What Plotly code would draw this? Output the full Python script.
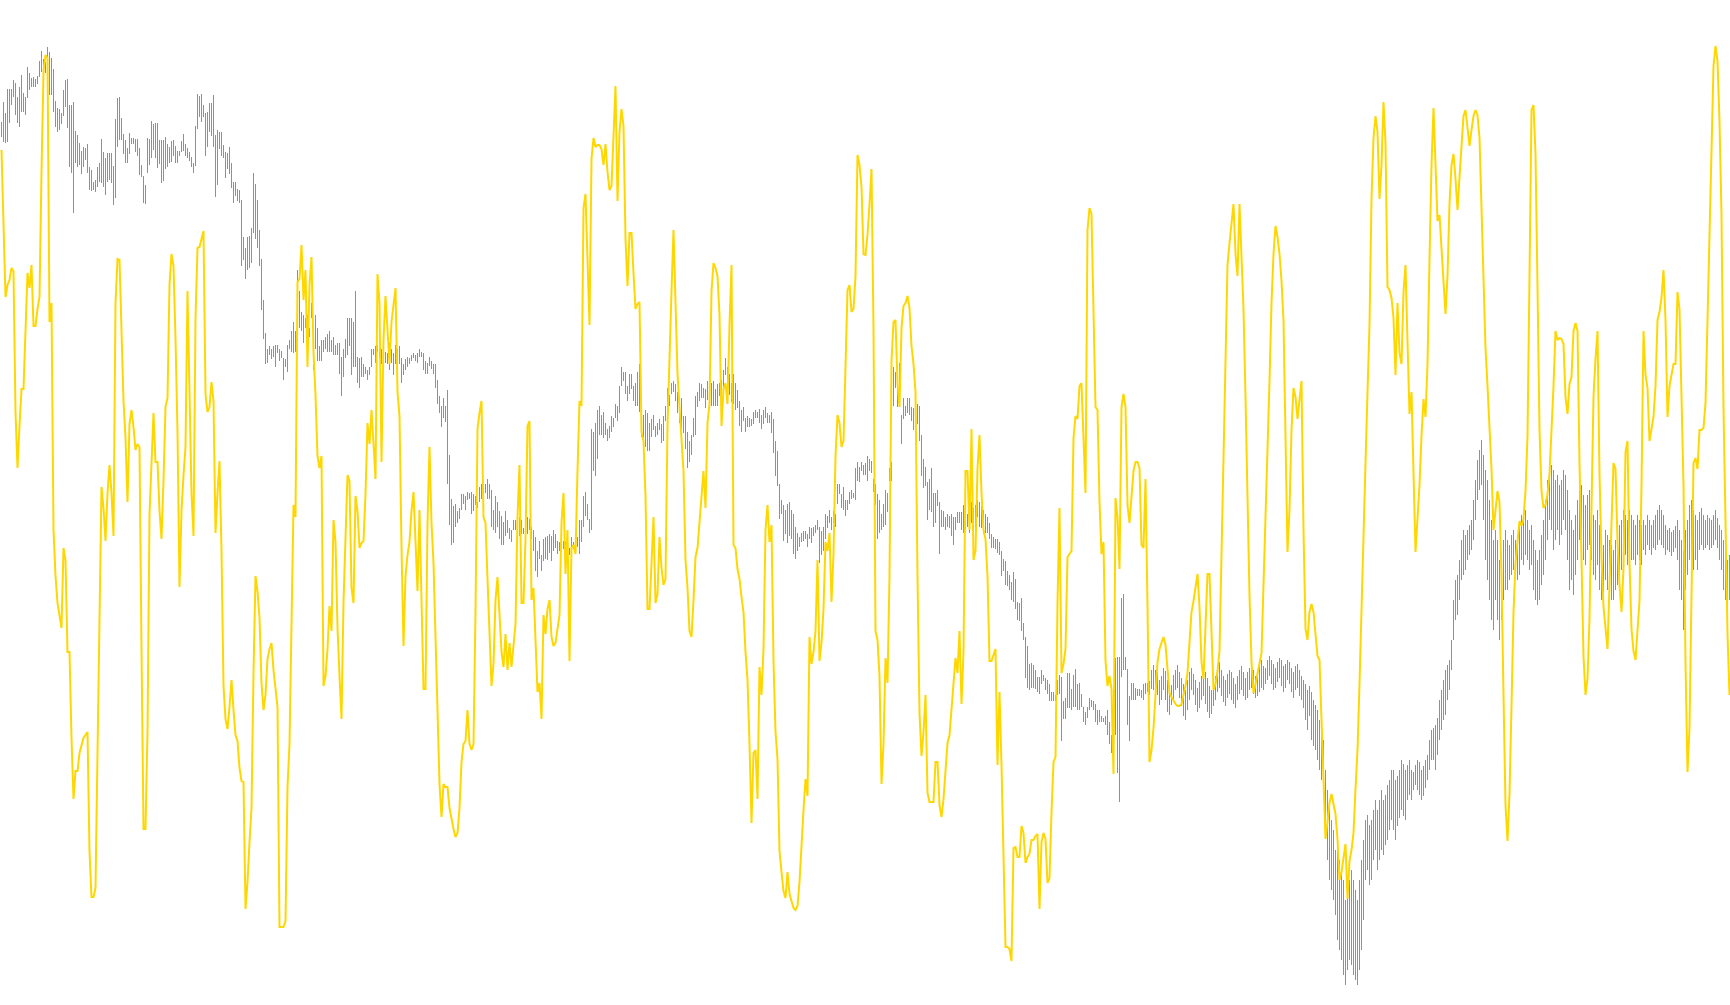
import plotly.graph_objects as go

# Bar extremes (vertical screen-depth units, 0 = top of chart, larger = lower)
bar_top = [
122,102,113,89,89,89,80,83,97,87, 75,93,97,67,73,78,77,79,76,61, 51,59,62,47,52,58,69,101,108,109,
113,90,80,79,105,105,102,131,135,143, 151,147,148,144,167,170,182,180,167,163, 139,152,158,153,153,153,166,119,98,97,
118,134,140,148,133,138,138,139,139,148, 165,176,185,138,139,121,124,123,123,140, 140,140,137,144,147,141,140,146,151,151,
141,134,144,148,152,157,163,126,94,96, 94,105,113,112,103,103,95,135,130,132, 132,145,152,153,147,163,182,182,189,190,
200,
237,248,237,236,228,173,184,200,230,259, 300,333,349,346,349,346,345,345,349,351, 358,359,345,
340,331,322,331,270,291,312,315,318,315, 328,303,328,315,328,346,340,340,337,334, 331,340,337,345,343,343,357,349,339,318,
318,318,322,291,357,358,357,364,367,370, 367,349,349,346,345,346,349,343,352,353, 343,349,353,345,349,346,358,364,359,357,
358,355,353,355,353,349,352,353,361,363, 357,361,
364,364,380,396,406,398,406,390,455,499, 506,504,511,508,494,494,496,492,493,492, 494,496,502,487,484,487,484,479,484,490,
510,496,502,511,516,522,511,520,528,530, 520,520,517,517,520,528,530,517,519,527, 530,537,551,541,555,539,537,536,534,536,
530,534,541,542,537,541,542,545,548,537, 542,539,
537,520,520,496,492,504,519,429,432,423, 410,406,415,412,423,429,426,416,418,404, 406,386,367,372,372,386,374,374,386,383,
372,364,423,415,410,413,423,419,415,426, 423,419,424,416,406,388,395,383,381,384, 392,401,398,416,416,432,441,435,418,396,
392,383,384,388,389,381,389,383,381,389, 384,383,
380,370,358,367,374,383,374,383,390,401, 410,407,418,416,418,419,412,410,412,409, 415,410,407,413,415,412,419,441,451,484,
500,505,510,504,502,510,514,527,533,537, 533,531,531,534,527,528,527,525,520,527, 531,527,514,516,510,517,511,514,484,484,
494,487,500,500,492,490,493,468,462,467, 462,465,
463,456,459,461,479,484,494,500,514,504, 490,493,468,462,367,372,383,363,415,398, 406,398,398,407,408,407,404,406,435,459,
467,482,479,468,493,493,490,502,510,511, 517,514,516,514,517,517,512,512,512,505, 511,514,517,502,508,505,500,502,506,510,
514,517,523,534,537,539,539,542,551,559, 561,571,
575,582,572,579,602,603,598,623,637,646, 664,663,665,670,677,677,670,675,678,680, 684,692,692,695,680,675,677,701,698,673,
673,689,675,669,684,683,694,707,712,707, 698,700,701,704,710,710,716,718,716,710, 722,735,689,658,657,657,598,594,657,669,
696,683,683,688,689,689,690,684,683,683, 681,670,
665,670,672,680,676,668,671,680,690,685, 675,670,665,672,678,684,690,680,672,668, 674,680,688,682,676,670,672,678,686,690,
682,676,668,662,670,676,680,674,670,672, 678,684,676,670,666,672,678,672,668,664, 670,676,672,664,660,666,668,660,656,660,
664,668,662,658,660,666,664,660,662,668, 672,666,664,670,676,680,684,690,686,692, 700,705,710,720,730,740,770,790,800,820,
830,850,840,860,870,880,900,890,880,870, 880,890,900,880,860,840,820,815,825,820, 810,800,810,800,790,800,795,785,780,770,
770,780,776,770,760,764,770,765,760,770, 772,765,760,762,770,766,760,755,740,730, 728,725,718,700,690,680,670,665,660,640,
600,580,575,560,540,530,535,530,525,520, 500,480,460,450,440,455,470,480,500,520, 540,530,540,560,555,540,530,540,545,535,
530,540,535,525,515,520,510,520,530,525, 540,550,560,550,535,520,500,480,470,465, 470,480,475,485,480,470,475,490,510,520,
530,515,500,490,485,495,505,495,490,500, 515,520,510,525,540,545,530,535,540,545, 550,540,535,525,520,510,515,520,510,515,
520,525,515,520,525,520,525,515,520,525, 520,515,510,505,510,515,525,530,528,532, 530,526,520,530,540,550,530,520,505,500,
510,515,520,512,508,515,520,515,518,520, 515,510,518,525,530,540,550,560,555,
]

bar_bottom = [
137,142,143,142,123,105,97,115,123,127, 112,112,115,98,90,87,87,87,84,77, 72,65,73,58,95,95,112,127,132,130,
124,116,107,128,167,173,213,163,167,165, 174,167,160,173,190,191,190,192,187,182, 183,187,195,182,180,183,205,198,147,140,
140,154,163,163,154,144,144,152,156,175, 177,203,204,173,165,158,150,158,168,164, 183,181,169,167,163,162,156,163,163,156,
152,151,156,158,161,167,173,166,129,117, 122,117,156,147,132,136,147,197,185,149, 156,158,178,169,174,188,203,196,201,203,
266,
260,279,270,268,263,233,239,248,266,310, 339,364,363,355,359,357,367,353,361,358, 380,367,372,
349,352,353,352,282,328,331,343,328,334, 337,318,370,349,361,361,361,352,349,352, 352,352,355,355,355,374,396,377,358,355,
346,375,367,367,383,388,377,377,374,380, 375,367,355,363,352,358,364,352,363,364, 370,363,375,364,370,364,383,375,370,367,
364,361,358,361,363,357,357,370,374,374, 366,369,
374,388,404,413,427,418,422,484,525,545, 543,527,523,519,510,504,510,500,499,514, 511,505,508,502,499,514,493,499,499,527,
530,533,527,539,545,545,536,533,539,542, 530,530,527,536,534,534,539,534,530,539, 551,571,577,559,571,561,559,560,553,561,
551,548,554,551,548,549,553,553,555,548, 549,547,
547,554,542,527,516,520,533,530,471,476, 459,435,435,438,435,441,438,432,427,418, 421,413,386,381,394,401,394,389,401,406,
406,412,437,438,447,451,451,437,430,437, 435,430,443,441,421,407,406,394,392,401, 413,423,429,433,449,468,462,455,437,435,
407,401,398,398,408,400,396,406,406,406, 406,396,
394,395,375,389,395,402,404,410,408,426, 432,421,432,427,427,426,424,418,418,423, 429,424,418,423,423,433,453,476,486,519,
514,541,534,543,536,539,554,559,551,547, 542,541,539,547,539,543,536,533,530,563, 555,551,539,528,523,530,523,527,504,494,
508,510,516,510,504,499,498,500,481,482, 471,475,
475,481,471,473,492,505,539,533,530,527, 525,512,481,481,406,388,407,401,444,419, 416,413,415,421,430,426,424,441,476,488,
486,520,510,512,527,523,506,554,527,527, 530,527,528,536,545,530,523,523,530,533, 530,527,533,523,523,530,517,527,528,534,
533,533,539,548,548,549,553,555,576,571, 585,586,
590,600,602,609,620,621,631,640,678,688, 690,688,688,689,692,694,684,681,690,694, 701,701,701,701,695,694,741,719,719,708,
708,710,707,707,710,710,707,722,725,718, 710,707,710,722,725,722,722,722,725,735, 744,753,732,735,773,802,677,670,670,725,
741,700,700,700,696,696,698,700,694,692, 695,689,
690,700,695,705,700,690,700,712,715,705, 700,690,688,698,706,716,720,710,700,690, 695,705,712,708,700,696,704,712,718,714,
706,700,692,688,696,702,706,698,694,700, 704,708,700,694,690,696,700,698,690,688, 694,698,696,692,688,690,684,680,676,684,
690,688,682,678,686,692,688,680,684,692, 698,690,688,696,700,708,720,730,716,740, 746,750,760,770,780,790,830,860,880,890,
900,915,940,950,960,975,985,970,960,965, 975,980,985,970,950,920,880,870,885,880, 860,850,870,860,850,855,845,840,830,820,
830,840,826,818,810,816,820,800,795,800, 790,785,790,795,800,796,788,780,770,760, 760,770,755,740,730,720,715,700,690,670,
640,620,615,600,580,575,570,560,555,550, 540,520,500,490,485,520,560,580,600,620, 630,600,620,640,620,600,590,590,580,575,
570,575,580,575,560,565,555,560,570,565, 590,600,605,600,585,575,560,540,520,530, 550,540,530,545,535,520,530,560,590,580,
595,575,560,540,545,560,565,550,545,560, 575,580,565,590,600,595,580,590,595,600, 600,590,585,575,570,560,555,565,555,560,
560,565,555,560,565,550,555,545,550,555, 548,550,545,540,545,548,555,550,552,556, 552,548,560,590,600,630,590,575,560,560,
570,560,570,550,545,550,548,545,550,548, 545,540,548,560,570,590,600,605,600,
]

signal = [
150,230,297,285,280,268,271,412,468,426, 389,389,340,273,288,265,326,326,309,297, 172,71,55,58,322,303,530,576,603,615,
628,548,560,652,652,738,799,771,771,753, 744,738,735,732,851,897,897,888,753,637, 487,508,541,493,465,493,536,303,259,260,
322,401,438,502,424,410,427,450,444,447, 649,829,
829,732,514,471,413,462,462,511,539,481, 407,398,285,254,266,339,432,587,511,475, 447,291,407,493,536,318,248,247,239,231,
394,412,407,382,401,533,493,461,551,686, 719,729,707,680,710,735,741,768,781,782, 909,882,842,808,673,576,591,618,683,710,
695,659,649,643,670,692,707,927,927,927, 921,787,
744,621,505,517,282,279,245,300,270,367, 285,257,352,395,456,468,456,686,676,649, 606,631,520,542,628,676,719,602,537,475,
481,588,603,496,511,548,543,541,494,423, 444,410,444,479,274,303,462,340,296,334, 364,322,303,288,392,416,547,646,576,555,
542,511,492,542,591,510,618,689,689,523, 447,523,
563,637,719,784,817,784,787,787,808,820, 829,837,833,808,762,744,741,710,744,750, 744,612,429,413,401,517,523,579,631,686,
664,600,577,621,652,667,634,670,643,667, 646,624,517,465,603,603,539,426,421,600, 588,652,692,683,719,615,634,609,600,637,
646,643,628,615,523,493,574,530,661,548, 545,554,
471,401,406,208,194,257,325,159,138,147, 145,145,149,165,144,172,190,186,135,86, 201,132,109,126,239,286,233,233,273,309,
304,302,432,441,496,609,609,568,517,603, 594,537,568,585,579,426,349,291,230,297, 374,407,441,471,560,588,631,637,600,557,
548,520,496,471,508,423,404,291,263,268, 276,315,
426,389,383,404,325,265,545,548,569,579, 597,612,652,680,744,823,753,750,799,667, 695,649,530,505,542,525,661,732,759,851,
872,891,898,872,894,900,908,910,906,882, 842,810,779,796,637,664,652,631,560,661, 643,609,542,551,533,602,554,456,415,423,
447,441,367,290,285,312,309,276,155,165, 187,254,
255,235,204,169,328,631,640,676,784,744, 658,683,576,361,322,320,383,407,328,306, 303,296,308,346,364,392,576,713,756,732,
695,793,802,802,802,762,762,805,817,799, 774,743,735,710,680,658,673,631,704,652, 471,471,530,429,560,551,468,435,493,530,
539,576,661,661,655,649,765,692,765,857, 947,947,
949,961,848,847,857,857,826,833,863,857, 854,840,840,836,834,909,842,833,839,883, 878,812,762,757,603,508,673,664,649,557,
554,551,438,416,419,386,383,438,493,230, 208,214,309,407,410,502,554,542,661,686, 676,689,774,498,517,569,407,394,407,505,
523,496,471,462,462,468,545,548,479,606, 762,750,
728,695,662,649,642,637,645,673,693,697, 701,704,706,706,704,695,686,673,645,612, 601,585,574,607,662,679,618,574,574,640,
690,684,671,651,552,463,353,265,243,226, 204,254,276,204,254,309,397,508,596,662, 693,684,673,665,653,585,519,463,381,303,
254,226,237,254,281,320,441,552,510,430, 388,397,419,397,381,530,629,640,612,604, 612,634,656,660,717,794,839,822,803,794,
803,814,839,880,872,858,844,899,861,850, 833,789,750,684,618,530,463,392,325,199, 138,116,132,199,165,102,143,287,290,298,
318,375,303,353,364,292,265,342,414,392, 485,552,519,485,436,399,417,364,259,165, 108,165,221,215,248,292,314,276,204,165,
154,179,210,177,143,116,110,130,146,130, 116,110,115,138,210,287,348,386,425,469, 530,508,491,502,574,695,805,841,794,706,
612,563,538,521,526,519,491,436,276,110, 105,154,287,430,491,508,505,494,474,432, 386,331,340,338,339,344,397,414,384,377,
331,323,331,463,574,656,695,679,618,508, 397,359,331,474,557,607,629,649,585,519, 463,469,541,585,612,568,452,441,563,629,
651,660,629,601,485,331,375,388,441,430, 417,386,320,312,298,270,320,417,386,375, 364,364,292,309,397,485,662,772,728,596,
463,458,469,430,430,428,403,320,232,143, 66,46,61,121,215,408,530,634,695,
]

n = min(len(bar_top), len(bar_bottom), len(signal))
bars = list(range(n))
bar_len = [bar_bottom[i] - bar_top[i] for i in bars]

fig = go.Figure()
fig.add_trace(go.Bar(x=bars, y=bar_len, base=bar_top[:n], width=0.5,
                     marker=dict(color="#22DD22", line=dict(width=0)),
                     hoverinfo="skip"))
fig.add_trace(go.Scatter(x=bars, y=signal[:n], mode="lines",
                         line=dict(color="#FFD700", width=2), hoverinfo="skip"))

fig.update_layout(
    width=1730, height=1005,
    margin=dict(l=0, r=0, t=0, b=0),
    paper_bgcolor="white", plot_bgcolor="white",
    showlegend=False, bargap=0,
    xaxis=dict(range=[-0.75, n - 0.75], visible=False, showgrid=False, zeroline=False),
    yaxis=dict(range=[1005, 0], visible=False, showgrid=False, zeroline=False),
)

fig.write_html("out.html", config={"displayModeBar": False},
               post_script="document.body.style.margin='0';document.body.style.overflow='hidden';")
